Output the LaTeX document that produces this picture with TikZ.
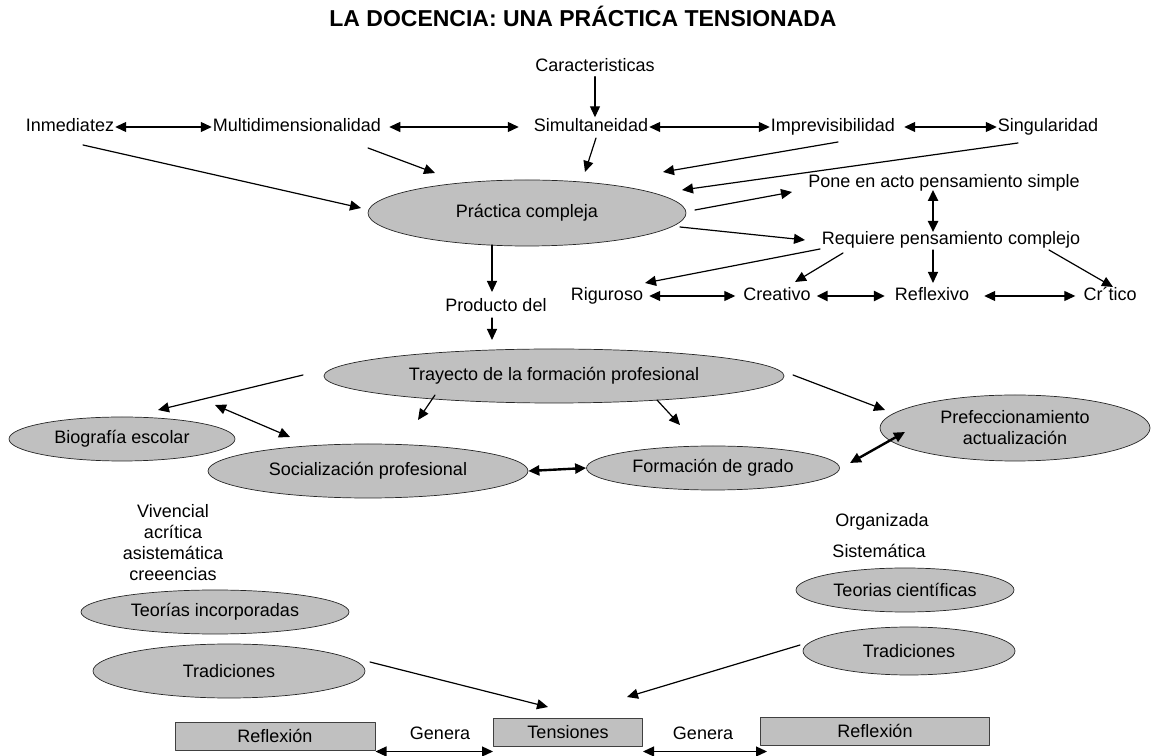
\documentclass[tikz,border=0pt]{standalone}
\usepackage{fontspec}
\setmainfont{Liberation Sans}
\usepackage{xcolor}
\usetikzlibrary{arrows.meta,shapes.geometric,positioning}
\definecolor{gris}{HTML}{C0C0C0}
\tikzset{%
      globo/.style = { ellipse, draw=black!85, fill=gris, line width=0.7pt, inner sep=0pt, align=center },
       caja/.style = { rectangle, draw=black!75, fill=gris, line width=1pt, inner sep=0pt },
      texto/.style = { inner sep=1pt, text height=13pt, text depth=4pt },
     bloque/.style = { inner sep=0pt, align=center },
     flecha/.style = { -{Triangle[length=11pt,width=10pt]}, line width=1.2pt },
       bifl/.style = { {Triangle[length=11pt,width=10pt]}-{Triangle[length=11pt,width=10pt]}, line width=1.2pt },
      doble/.style = { bifl, line width=2.4pt }
}
\begin{document}
\begin{tikzpicture}[x=1pt,y=1pt,line cap=round,line join=round,font=\fontsize{18}{21}\selectfont]
\useasboundingbox (0,0) rectangle (1156,755);
% titulo
\node[texto,font=\fontsize{23}{27}\selectfont\bfseries] (titulo) at (583,733) {LA DOCENCIA: UNA PRÁCTICA TENSIONADA};
% caracteristicas
\node[texto] (car) at (595,688) {Caracteristicas};
\node[texto] (inm) at (70,628) {Inmediatez};
\node[texto] (multi) at (297,628) {Multidimensionalidad};
\node[texto] (sim) at (591,628) {Simultaneidad};
\node[texto] (imp) at (833,628) {Imprevisibilidad};
\node[texto] (sing) at (1048,628) {Singularidad};
\node[globo,minimum width=318,minimum height=66] (pc) at (527,542) {Práctica compleja};
\node[texto] (pone) at (944,572) {Pone en acto pensamiento simple};
\node[texto] (req) at (951,515) {Requiere pensamiento complejo};
\node[texto] (rig) at (607,459) {Riguroso};
\node[texto] (crea) at (777,459) {Creativo};
\node[texto] (refl) at (932,459) {Reflexivo};
\node[texto] (crit) at (1110,459) {Cr´tico};
\draw[flecha] (car.south) -- (car.south |- sim.north);
\draw[bifl] (inm.east) -- (multi.west);
\draw[bifl,shorten <=7pt,shorten >=14pt] (multi.east) -- (sim.west);
\draw[bifl] (sim.east) -- (imp.west);
\draw[bifl,shorten <=8pt] (imp.east) -- (sing.west);
\draw[flecha] ([xshift=13pt,yshift=-18pt]inm.center) -- ([xshift=-166pt,yshift=5pt]pc.center);
\draw[flecha] ([xshift=71pt,yshift=-21pt]multi.center) -- ([xshift=-92pt,yshift=40pt]pc.center);
\draw[flecha] ([xshift=5pt,yshift=-11pt]sim.center) -- ([xshift=58pt,yshift=41pt]pc.center);
\draw[flecha] ([xshift=5pt,yshift=-15pt]imp.center) -- ([xshift=136pt,yshift=41pt]pc.center);
\draw[flecha] ([xshift=-30pt,yshift=-16pt]sing.center) -- ([xshift=155pt,yshift=23pt]pc.center);
\draw[flecha] ([xshift=168pt,yshift=3pt]pc.center) -- ([xshift=-152pt,yshift=-9pt]pone.center);
\draw[doble] ([xshift=-11pt,yshift=-7pt]pone.center) -- ([xshift=-18pt,yshift=8pt]req.center);
\draw[flecha] ([xshift=153pt,yshift=-14pt]pc.center) -- ([xshift=-146pt]req.center);
% tipos de pensamiento
\draw[flecha] ([xshift=-131pt,yshift=-9pt]req.center) -- ([xshift=38pt,yshift=13pt]rig.center);
\draw[flecha] ([xshift=-108pt,yshift=-13pt]req.center) -- ([xshift=18pt,yshift=14pt]crea.center);
\draw[flecha] ([xshift=-18pt,yshift=-10pt]req.center) -- ([xshift=1pt,yshift=13pt]refl.center);
\draw[flecha] ([xshift=98pt,yshift=-10pt]req.center) -- ([xshift=3pt,yshift=9pt]crit.center);
\draw[bifl,shorten <=5pt,shorten >=7pt] (rig.east) -- (crea.west);
\draw[doble,shorten <=5pt,shorten >=9pt] (crea.east) -- (refl.west);
\draw[bifl,shorten <=14pt,shorten >=7pt] (refl.east) -- (crit.west);
% trayecto de formacion
\node[texto] (prod) at (496,448) {Producto del};
\node[globo,minimum width=460,minimum height=54] (tray) at (554,379) {Trayecto de la formación profesional};
\node[globo,minimum width=226,minimum height=44] (bio) at (122,316) {Biografía escolar};
\node[globo,minimum width=320,minimum height=54] (soc) at (368,284) {Socialización profesional};
\node[globo,minimum width=253,minimum height=44] (fdg) at (713,287) {Formación de grado};
\node[globo,minimum width=270,minimum height=66] (pref) at (1015,327) {Prefeccionamiento\\actualización};
\draw[flecha] ([xshift=-35pt,yshift=-32pt]pc.center) -- ([xshift=-4pt,yshift=15pt]prod.center);
\draw[flecha] ([xshift=-4pt,yshift=-11pt]prod.center) -- ([xshift=-62pt,yshift=36pt]tray.center);
\draw[flecha] ([xshift=-251pt,yshift=1pt]tray.center) -- ([xshift=36pt,yshift=29pt]bio.center);
\draw[bifl] ([xshift=93pt,yshift=34pt]bio.center) -- ([xshift=-78pt,yshift=34pt]soc.center);
\draw[flecha] ([xshift=-119pt,yshift=-19pt]tray.center) -- ([xshift=50pt,yshift=51pt]soc.center);
\draw[flecha] ([xshift=103pt,yshift=-24pt]tray.center) -- ([xshift=-33pt,yshift=43pt]fdg.center);
\draw[flecha] ([xshift=239pt,yshift=1pt]tray.center) -- ([xshift=-130pt,yshift=18pt]pref.center);
\draw[doble] (soc.east) -- (fdg.west);
\draw[doble] ([xshift=137pt,yshift=5pt]fdg.center) -- ([xshift=-110pt,yshift=-4pt]pref.center);
% teorias y tradiciones
\node[bloque] (viv) at (173,212) {Vivencial\\acrítica\\asistemática\\creeencias};
\node[texto] (org) at (882,233) {Organizada};
\node[texto] (sist) at (879,202) {Sistemática};
\node[globo,minimum width=268,minimum height=44] (teoinc) at (215,143) {Teorías incorporadas};
\node[globo,minimum width=272,minimum height=54] (tradL) at (229,84) {Tradiciones};
\node[globo,minimum width=218,minimum height=44] (teocien) at (905,165) {Teorias científicas};
\node[globo,minimum width=212,minimum height=48] (tradR) at (909,104) {Tradiciones};
% tensiones
\node[caja,minimum width=200,minimum height=28] (reflL) at (275,19) {Reflexión};
\node[caja,minimum width=149,minimum height=28] (tens) at (568,23) {Tensiones};
\node[caja,minimum width=229,minimum height=28] (reflR) at (875,24) {Reflexión};
\node[texto] (genL) at (440,20) {Genera};
\node[texto] (genR) at (703,20) {Genera};
\draw[flecha] ([xshift=141pt,yshift=9pt]tradL.center) -- ([xshift=-20pt,yshift=25pt]tens.center);
\draw[flecha] ([xshift=-109pt,yshift=6pt]tradR.center) -- ([xshift=59pt,yshift=35pt]tens.center);
\draw[bifl] ([yshift=-1pt]reflL.south east) -- ([yshift=-5pt]tens.south west);
\draw[bifl] ([yshift=-5pt]tens.south east) -- ([xshift=7pt,yshift=-6pt]reflR.south west);
\end{tikzpicture}
\end{document}
